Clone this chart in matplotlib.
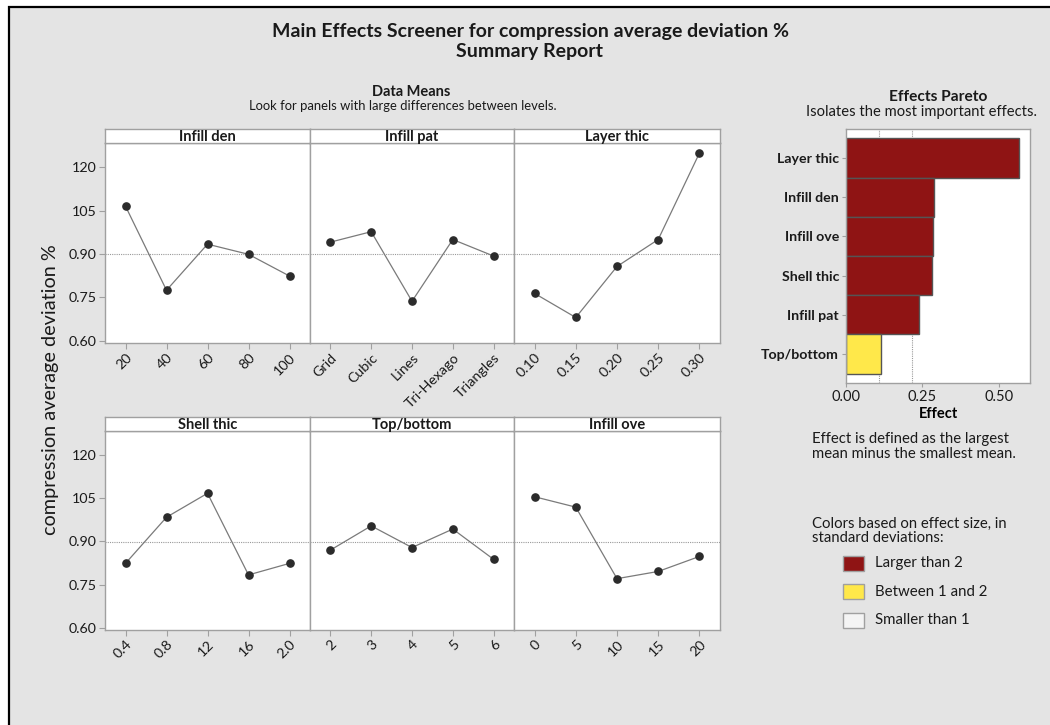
import matplotlib
matplotlib.use("Agg")
import matplotlib.pyplot as plt
from matplotlib.patches import Rectangle
import numpy as np

W, H = 1050, 725
plt.rcParams['font.family'] = ['Lato', 'DejaVu Sans']

# ---- data -------------------------------------------------------------
response = "compression average deviation %"

infill_den_levels = ["20", "40", "60", "80", "100"]
infill_den_means = [1.065, 0.775, 0.934, 0.899, 0.824]

infill_pat_levels = ["Grid", "Cubic", "Lines", "Tri-Hexago", "Triangles"]
infill_pat_means = [0.941, 0.977, 0.737, 0.950, 0.893]

layer_thic_levels = ["0.10", "0.15", "0.20", "0.25", "0.30"]
layer_thic_means = [0.764, 0.681, 0.857, 0.950, 1.248]

shell_thic_levels = ["0.4", "0.8", "12", "16", "2.0"]
shell_thic_means = [0.824, 0.984, 1.067, 0.784, 0.824]

top_bottom_levels = ["2", "3", "4", "5", "6"]
top_bottom_means = [0.870, 0.954, 0.879, 0.943, 0.838]

infill_ove_levels = ["0", "5", "10", "15", "20"]
infill_ove_means = [1.055, 1.019, 0.771, 0.796, 0.848]

y_tick_values = [0.60, 0.75, 0.90, 1.05, 1.20]
y_tick_labels = ["0.60", "0.75", "0.90", "105", "120"]

sd_unit = 0.1085          # one standard deviation of the effects
pareto_ticks = [0.00, 0.25, 0.50]

factors = [
    ("Infill den", infill_den_levels, infill_den_means),
    ("Infill pat", infill_pat_levels, infill_pat_means),
    ("Layer thic", layer_thic_levels, layer_thic_means),
    ("Shell thic", shell_thic_levels, shell_thic_means),
    ("Top/bottom", top_bottom_levels, top_bottom_means),
    ("Infill ove", infill_ove_levels, infill_ove_means),
]

grand_mean = np.mean([np.mean(m) for _, _, m in factors])

RED = "#8f1414"
YELLOW = "#ffe84a"
PALE = "#f4f4f4"
BG = "#e4e4e4"
SPINE = "#a0a0a0"
INK = "#1a1a1a"
TICK_FS = 10.3


def fx(x):
    return x / W


def fy(y):
    return 1 - y / H


def px_axes(x0, y0, x1, y1, **kw):
    return fig.add_axes([fx(x0), fy(y1), (x1 - x0) / W, (y1 - y0) / H], **kw)


plt.rcParams['text.color'] = INK
plt.rcParams['xtick.labelcolor'] = INK
plt.rcParams['ytick.labelcolor'] = INK

fig = plt.figure(figsize=(W / 100, H / 100), dpi=100, facecolor="white")

# report frame
fig.add_artist(Rectangle((fx(9), fy(1000)), 2.0, (1000 - 7) / H,
                         transform=fig.transFigure, facecolor=BG,
                         edgecolor="black", linewidth=1.6, zorder=0))

fig.text(fx(530), fy(31), "Main Effects Screener for compression average deviation %",
         ha="center", va="center", fontsize=14, fontweight="bold")
fig.text(fx(530), fy(51), "Summary Report", ha="center", va="center",
         fontsize=14, fontweight="bold")

fig.text(fx(411), fy(92), "Data Means", ha="center", va="center",
         fontsize=10.5, fontweight="bold")
fig.text(fx(403), fy(106), "Look for panels with large differences between levels.",
         ha="center", va="center", fontsize=9.4)

# ---- main effects panels ----------------------------------------------
rows = [(129, 143, 343), (417, 431, 630)]
cols = [105, 310, 514, 720]
ylim = (0.593, 1.283)

for i, (name, levels, means) in enumerate(factors):
    r, c = divmod(i, 3)
    strip_top, plot_top, plot_bot = rows[r]
    x0, x1 = cols[c], cols[c + 1]

    ax = px_axes(x0, plot_top, x1, plot_bot, facecolor="white")
    pos = np.arange(1, len(levels) + 1)
    ax.axhline(grand_mean, color="#9a9a9a", lw=0.8, ls=(0, (1, 1)), zorder=1)
    ax.plot(pos, means, color="#7a7a7a", lw=0.9, zorder=2)
    ax.plot(pos, means, "o", color="#2b2b2b", ms=5.2, zorder=3)
    ax.set_xlim(0.5, len(levels) + 0.5)
    ax.set_ylim(*ylim)
    ax.set_xticks(pos)
    ax.set_xticklabels(levels, rotation=45, ha="right", va="top",
                       rotation_mode="anchor", fontsize=TICK_FS)
    ax.set_yticks(y_tick_values)
    ax.tick_params(axis="both", color=SPINE, length=4, width=0.8, pad=2)
    if c == 0:
        ax.set_yticklabels(y_tick_labels, fontsize=TICK_FS)
    else:
        ax.tick_params(axis="y", length=0, labelleft=False)
    for s in ax.spines.values():
        s.set_color(SPINE)
        s.set_linewidth(1.0)

    sax = px_axes(x0, strip_top, x1, plot_top, facecolor="white")
    sax.set_xticks([])
    sax.set_yticks([])
    for s in sax.spines.values():
        s.set_color(SPINE)
        s.set_linewidth(1.0)
    sax.text(0.5, 0.42, name, ha="center", va="center", fontsize=10.5,
             fontweight="bold", transform=sax.transAxes)

fig.text(fx(51), fy(390), response, rotation=90, ha="center", va="center",
         fontsize=14.3)

# ---- effects pareto ---------------------------------------------------
fig.text(fx(938), fy(97), "Effects Pareto", ha="center", va="center",
         fontsize=11.2, fontweight="bold")
fig.text(fx(922), fy(112), "Isolates the most important effects.",
         ha="center", va="center", fontsize=10.6)

names = [f[0] for f in factors]
effects = [max(m) - min(m) for _, _, m in factors]
order = np.argsort(effects)[::-1]
p_names = [names[k] for k in order]
p_effects = [effects[k] for k in order]


def effect_color(e):
    if e > 2 * sd_unit:
        return RED
    if e > sd_unit:
        return YELLOW
    return PALE


pax = px_axes(846, 129, 1030, 383, facecolor="white")
ypos = np.arange(len(p_names))
pax.barh(ypos, p_effects, height=1.0, color=[effect_color(e) for e in p_effects],
         edgecolor="#555555", linewidth=1.0, zorder=2)
for t in (sd_unit, 2 * sd_unit):
    pax.axvline(t, color="#9a9a9a", lw=0.8, ls=(0, (1, 1)), zorder=1)
pax.set_xlim(0, 0.603)
pax.set_ylim(len(p_names) - 0.26, -0.74)
pax.set_yticks(ypos)
pax.set_yticklabels(p_names, fontsize=10.2, fontweight="bold")
pax.set_xticks(pareto_ticks)
pax.set_xticklabels([f"{t:.2f}" for t in pareto_ticks], fontsize=10.5)
pax.tick_params(axis="both", color=SPINE, length=3, width=0.8, pad=2)
pax.set_xlabel("Effect", fontsize=10.5, fontweight="bold", labelpad=2)
for s in pax.spines.values():
    s.set_color(SPINE)
    s.set_linewidth(1.0)

fig.text(fx(812), fy(432), "Effect is defined as the largest\nmean minus the smallest mean.",
         ha="left", va="top", fontsize=10.7, linespacing=1.05)
fig.text(fx(812), fy(517), "Colors based on effect size, in\nstandard deviations:",
         ha="left", va="top", fontsize=10.7, linespacing=1.0)

legend_items = [(RED, "Larger than 2"), (YELLOW, "Between 1 and 2"),
                (PALE, "Smaller than 1")]
for k, (col, lab) in enumerate(legend_items):
    yc = 563 + k * 28.7
    fig.add_artist(Rectangle((fx(843), fy(yc + 7.5)), 21 / W, 15 / H,
                             transform=fig.transFigure, facecolor=col,
                             edgecolor="#a0a0a0", linewidth=1.0))
    fig.text(fx(875), fy(yc), lab, ha="left", va="center", fontsize=10.8)

fig.savefig("out.png", dpi=100, facecolor="white")
